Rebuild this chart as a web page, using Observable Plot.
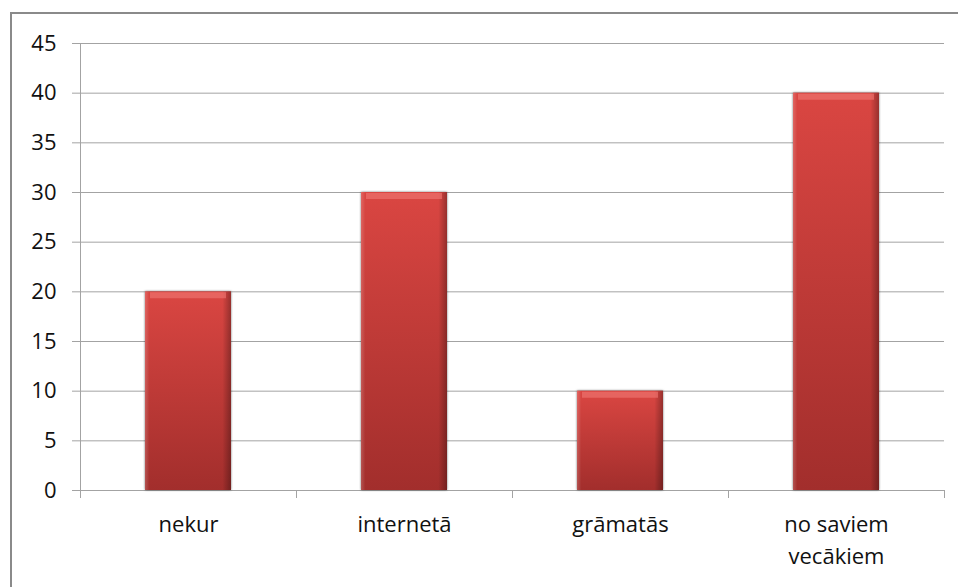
<!DOCTYPE html>
<html>
<head>
<meta charset="utf-8">
<script src="https://cdn.jsdelivr.net/npm/d3@7"></script>
<script src="https://cdn.jsdelivr.net/npm/@observablehq/plot@0.6"></script>
<style>
  html, body { margin: 0; padding: 0; background: #fff; }
  #wrap { position: relative; width: 958px; height: 587px; overflow: hidden; }
  #frame { position: absolute; left: 10px; top: 12px; width: 1000px; height: 700px;
           border-left: 2px solid #8a8a8a; border-top: 2px solid #8a8a8a; box-sizing: border-box; }
  #chart { position: absolute; left: 0; top: 0; }
  .bars rect { filter: drop-shadow(0px 0px 1.2px rgba(0,0,0,0.55)); }
</style>
</head>
<body>
<div id="wrap"><div id="frame"></div><div id="chart"></div></div>
<script>
const categories = ["nekur", "internetā", "grāmatās", "no saviem vecākiem"];
const values = [20, 30, 10, 40];
const yTicks = [0, 5, 10, 15, 20, 25, 30, 35, 40, 45];

const data = categories.map((c, i) => ({category: c, index: i, value: values[i]}));
const grid = "#a3a3a3";
const font = "Open Sans, sans-serif";

const plot = Plot.plot({
  width: 958,
  height: 587,
  marginLeft: 80,
  marginRight: 14,
  marginTop: 43,
  marginBottom: 97,
  style: {fontFamily: font, background: "transparent", overflow: "visible"},
  x: {domain: [0, categories.length], axis: null},
  y: {domain: [0, 45], axis: null},
  marks: [
    Plot.gridY(yTicks, {stroke: grid, strokeOpacity: 1, strokeWidth: 1}),
    Plot.axisY(yTicks, {tickSize: 8, tickPadding: 16, stroke: grid, strokeOpacity: 1,
      fontSize: 22, fill: "#111", label: null}),
    Plot.axisX(d3.range(categories.length + 1), {tickSize: 8, stroke: grid, strokeOpacity: 1,
      tickFormat: () => "", label: null}),
    Plot.ruleX([0], {stroke: grid, strokeWidth: 1}),
    Plot.ruleY([0], {stroke: grid, strokeWidth: 1}),
    Plot.rectY(data, {x1: "index", x2: d => d.index + 1, y: "value", insetLeft: 65, insetRight: 65,
      fill: "url(#barV)", className: "bars"}),
    Plot.rectY(data, {x1: "index", x2: d => d.index + 1, y: "value", insetLeft: 65, insetRight: 65,
      fill: "url(#barH)"}),
    Plot.ruleY(data, {x1: "index", x2: d => d.index + 1, y: "value", insetLeft: 70, insetRight: 70,
      dy: 3.5, strokeWidth: 6, stroke: "#f07a74", strokeOpacity: 0.6}),
    Plot.text(data, {x: d => d.index + 0.5, y: 0, text: "category", lineAnchor: "top", dy: 19,
      fontSize: 22, lineHeight: 1.45, lineWidth: 6.5, fill: "#111", fontFamily: font})
  ]
});

const svg = d3.select(plot);
const defs = svg.insert("defs", ":first-child");
const gv = defs.append("linearGradient").attr("id", "barV").attr("x1", 0).attr("y1", 0).attr("x2", 0).attr("y2", 1);
gv.append("stop").attr("offset", "0%").attr("stop-color", "#da4642");
gv.append("stop").attr("offset", "100%").attr("stop-color", "#a22e2c");
const gh = defs.append("linearGradient").attr("id", "barH").attr("x1", 0).attr("y1", 0).attr("x2", 1).attr("y2", 0);
gh.append("stop").attr("offset", "0%").attr("stop-color", "#ffffff").attr("stop-opacity", 0.18);
gh.append("stop").attr("offset", "5%").attr("stop-color", "#ffffff").attr("stop-opacity", 0.0);
gh.append("stop").attr("offset", "90%").attr("stop-color", "#000000").attr("stop-opacity", 0.0);
gh.append("stop").attr("offset", "100%").attr("stop-color", "#000000").attr("stop-opacity", 0.3);

document.getElementById("chart").appendChild(plot);
</script>
</body>
</html>
